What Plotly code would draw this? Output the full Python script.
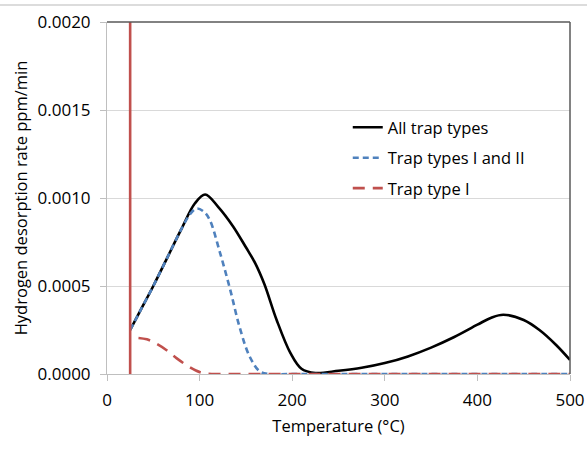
import plotly.graph_objects as go

# ---- data ----
vline_T = [25, 25]
vline_rate = [0.0, 0.0025]

all_T = [25, 35, 50, 65, 80, 95, 106, 120, 136, 150, 160, 170, 183, 198, 210, 225, 250, 275, 300,
         325, 350, 375, 400, 415, 428, 450, 467, 485, 500]
all_rate = [0.00025, 0.00035, 0.0005, 0.00066, 0.00082, 0.00097, 0.00102, 0.00095, 0.00084, 0.00072,
            0.00063, 0.00051, 0.00031, 0.00012, 0.00003, 0.000006, 0.000018, 0.000035, 0.000062,
            0.0001, 0.00015, 0.00021, 0.00028, 0.00032, 0.000337, 0.000307, 0.00025, 0.000165,
            0.00008]

i_ii_T = [25, 35, 50, 65, 80, 90, 97, 105, 111, 122, 133, 143, 154, 165, 175, 200, 250, 300, 350,
          400, 450, 500]
i_ii_rate = [0.00025, 0.00035, 0.0005, 0.00066, 0.00082, 0.00091, 0.00094, 0.00092, 0.000875,
             0.00069, 0.00048, 0.00027, 0.0001, 0.000015, 0.0, 0.0, 0.0, 0.0, 0.0, 0.0, 0.0, 0.0]

i_T = [34, 43, 54, 64, 75, 86, 96, 104, 115, 150, 200, 250, 300, 350, 400, 450, 500]
i_rate = [0.000205, 0.000197, 0.00017, 0.000136, 0.00009, 0.00005, 0.00002, 0.000005, 0.0, 0.0,
          0.0, 0.0, 0.0, 0.0, 0.0, 0.0, 0.0]

names = ["All trap types", "Trap types I and II", "Trap type I"]
y_ticks = [0.0, 0.0005, 0.0010, 0.0015, 0.0020]
x_ticks = [0, 100, 200, 300, 400, 500]

BLACK = "#000000"
BLUE = "#4F81BD"
RED = "#C0504D"
FONT = "Open Sans"

fig = go.Figure()

series = [
    (all_T, all_rate, names[0], BLACK, "solid"),
    (i_ii_T, i_ii_rate, names[1], BLUE, "6px,4px"),
    (i_T, i_rate, names[2], RED, "12px,8px"),
]
for idx, (T, r, name, col, dash) in enumerate(series):
    fig.add_trace(go.Scatter(
        x=T, y=r, mode="lines", name=name,
        line=dict(color=col, width=2.6, dash=dash, shape="spline", smoothing=1.0),
        legendgroup=f"g{idx}",
    ))

# initial vertical segment of the series at the start temperature
fig.add_trace(go.Scatter(x=vline_T, y=vline_rate, mode="lines", showlegend=False,
                         line=dict(color=RED, width=2.6), hoverinfo="skip"))

fig.update_layout(
    width=587, height=450,
    margin=dict(l=107, r=17, t=22, b=76, autoexpand=False),
    paper_bgcolor="white", plot_bgcolor="white",
    font=dict(family=FONT, size=16, color="#000000"),
    showlegend=True,
    legend=dict(x=0.52, y=0.75, xanchor="left", yanchor="top", bgcolor="rgba(0,0,0,0)",
                borderwidth=0, font=dict(size=16.5, family=FONT), traceorder="grouped",
                tracegroupgap=6),
    xaxis=dict(range=[0, 500], tickvals=x_ticks, ticktext=[str(v) for v in x_ticks],
               showgrid=False, zeroline=False, showline=True, linecolor="#BFBFBF", linewidth=1,
               ticks="outside", ticklen=6, tickcolor="#BFBFBF", automargin=False,
               ticklabelstandoff=5,
               title=dict(text="Temperature (°C)", standoff=10, font=dict(size=16.5)),
               tickfont=dict(size=17)),
    yaxis=dict(range=[0, 0.002], tickvals=y_ticks, ticktext=[f"{v:.4f}" for v in y_ticks],
               showgrid=True, gridcolor="#D9D9D9", gridwidth=1, zeroline=False,
               showline=True, linecolor="#BFBFBF", linewidth=1, automargin=False,
               ticks="outside", ticklen=6, tickcolor="#BFBFBF", ticklabelstandoff=6,
               title=dict(text="Hydrogen desorption rate ppm/min", standoff=5,
                          font=dict(size=16.5)),
               tickfont=dict(size=17)),
    shapes=[
        dict(type="line", xref="paper", yref="paper", x0=0, x1=1, y0=1, y1=1,
             line=dict(color="#595959", width=1.5)),
        dict(type="line", xref="paper", yref="paper", x0=1, x1=1, y0=0, y1=1,
             line=dict(color="#595959", width=1.5)),
        dict(type="line", xref="paper", yref="paper", x0=-107 / 463, x1=480 / 463,
             y0=1.048, y1=1.048, line=dict(color="#D0D0D0", width=1.5)),
    ],
)

fig.write_html("out.html")
